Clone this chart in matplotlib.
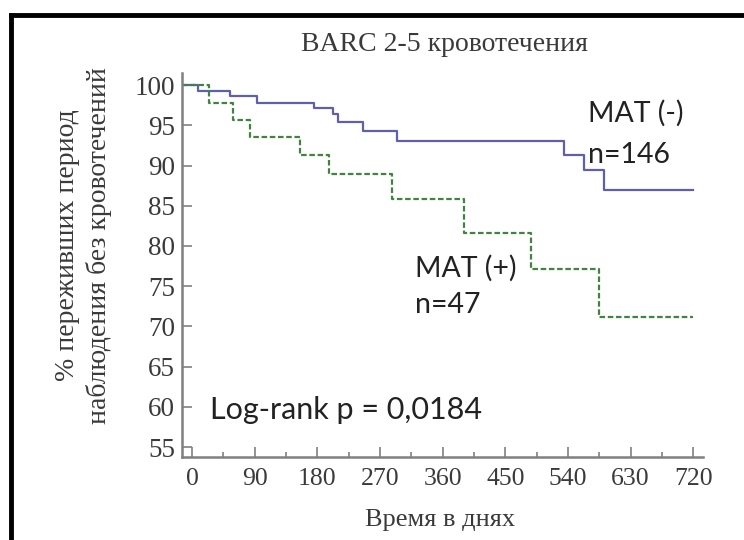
import matplotlib.pyplot as plt
from matplotlib.lines import Line2D

# Kaplan-Meier step data (days, % event-free)
neg_days = [-14, 9, 55, 93, 175, 202, 210, 245, 294, 534, 563, 592, 720]
neg_surv = [100, 99.3, 98.6, 97.8, 97.1, 96.4, 95.4, 94.3, 93.1, 91.3, 89.4, 87.0, 87.0]
pos_days = [-14, 25, 59, 83, 155, 197, 287, 391, 487, 585, 720]
pos_surv = [100, 97.8, 95.6, 93.5, 91.3, 88.9, 85.8, 81.6, 77.1, 71.2, 71.2]

x_ticks = [0, 90, 180, 270, 360, 450, 540, 630, 720]
y_ticks = [55, 60, 65, 70, 75, 80, 85, 90, 95, 100]

serif = 'Liberation Serif'
sans = 'Lato'

fig = plt.figure(figsize=(7.44, 5.40), dpi=100)
ax = fig.add_axes([0.2446, 0.1537, 0.7004, 0.7111])

ax.step(neg_days, neg_surv, where='post', color='#5f5fab', lw=1.6)
ax.step(pos_days, pos_surv, where='post', color='#3f843f', lw=1.6,
        linestyle=(0, (2.5, 1.2)))

ax.set_xlim(-14.4, 734)
ax.set_ylim(53.76, 101.5)
ax.set_xticks(x_ticks)
ax.set_xticks([45, 135, 225, 315, 405, 495, 585, 675], minor=True)
ax.set_yticks(y_ticks)

for s in ['top', 'right']:
    ax.spines[s].set_visible(False)
for s in ['left', 'bottom']:
    ax.spines[s].set_color('#808080')
    ax.spines[s].set_linewidth(1.8)

ax.tick_params(which='major', direction='in', length=7, width=1.2, color='#808080',
               pad=8)
ax.tick_params(which='minor', direction='in', length=3.5, width=1.2, color='#808080')
ax.tick_params(axis='x', labelsize=18.5)
ax.tick_params(axis='y', pad=5, labelsize=19.5)
for lab in ax.get_xticklabels() + ax.get_yticklabels():
    lab.set_fontfamily(serif)
    lab.set_color('#3a3a3a')

ax.text(569, 96.5, 'MAT (-)', family=sans, fontsize=20.5, color='#222222', va='center')
ax.text(569, 91.3, 'n=146', family=sans, fontsize=20.5, color='#222222', va='center')
ax.text(320, 77.25, 'MAT (+)', family=sans, fontsize=20.5, color='#222222', va='center')
ax.text(320, 72.65, 'n=47', family=sans, fontsize=20.5, color='#222222', va='center')
ax.text(26, 59.6, 'Log-rank p = 0,0184', family=sans, fontsize=22, color='#222222',
        va='center')

fig.text(0.598, 0.917, 'BARC 2-5 кровотечения', family=serif, fontsize=20,
         color='#3a3a3a', ha='center', va='center')
fig.text(0.591, 0.037, 'Время в днях', family=serif, fontsize=19,
         color='#3a3a3a', ha='center', va='center')
fig.text(0.112, 0.546, '% переживших период\nнаблюдения без кровотечений',
         family=serif, fontsize=20, color='#3a3a3a', ha='center', va='center',
         rotation=90, linespacing=1.3)

# black frame on the left and top edges
fig.add_artist(Line2D([0.0148, 0.0148], [0.0, 0.9722], color='black', lw=3.5))
fig.add_artist(Line2D([0.0148, 1.0], [0.9722, 0.9722], color='black', lw=3.5))

fig.savefig('out.png', dpi=100)
